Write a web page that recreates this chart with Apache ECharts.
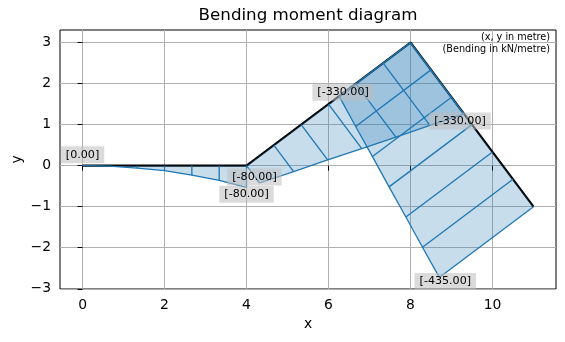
<!DOCTYPE html>
<html><head><meta charset="utf-8">
<script src="https://cdn.jsdelivr.net/npm/echarts@6/dist/echarts.min.js"></script>
<style>html,body{margin:0;padding:0;background:#fff}#c{width:565px;height:342px}</style>
</head><body><div id="c"></div>
<script>
// ---- data ----
const nodeX = [0, 4, 8, 11];
const nodeY = [0, 0, 3, -1];
const memberStart = [0, 1, 2];
const memberEnd = [1, 2, 3];
// bending moment (kN·m) at 7 evenly spaced stations along each member
const momentsM1 = [0, -2, -9, -18, -35, -54, -80];
const momentsM2 = [-80, -122, -163, -205, -247, -288, -330];
const momentsM3 = [-330, -348, -365, -383, -400, -418, -435];
const xTicks = [0, 2, 4, 6, 8, 10];
const yTicks = [-3, -2, -1, 0, 1, 2, 3];
const titleText = 'Bending moment diagram';
const noteLines = ['(x, y in metre)', '(Bending in kN/metre)'];

// ---- drawing settings ----
const drawScale = 0.0066; // metres of drawing per kN·m
const FONT = 'DejaVu Sans';
const BLUE = '#1f77b4';
// pixel nudges for the end labels [start, end] per member
const labelNudge = [[[0, -11], [0, 7]], [[-5, -6], [-4, 7]], [[4, -4], [6, 4]]];

const moments = [momentsM1, momentsM2, momentsM3];

function memberGeom(i) {
  const a = memberStart[i], b = memberEnd[i];
  const x0 = nodeX[a], y0 = nodeY[a], x1 = nodeX[b], y1 = nodeY[b];
  const L = Math.hypot(x1 - x0, y1 - y0);
  const ux = (x1 - x0) / L, uy = (y1 - y0) / L;
  const nx = uy, ny = -ux;
  const ms = moments[i];
  const n = ms.length - 1;
  const base = [], off = [];
  for (let k = 0; k <= n; k++) {
    const t = k / n;
    const bx = x0 + (x1 - x0) * t, by = y0 + (y1 - y0) * t;
    const d = -ms[k] * drawScale;
    base.push([bx, by]);
    off.push([bx + nx * d, by + ny * d]);
  }
  return { base, off, ms };
}
const geoms = memberStart.map((_, i) => memberGeom(i));
const memberIdx = memberStart.map((_, i) => i);

const labelItems = [];
geoms.forEach((g, i) => {
  const n = g.off.length - 1;
  labelItems.push({ p: g.off[0], v: g.ms[0], nudge: labelNudge[i][0] });
  labelItems.push({ p: g.off[n], v: g.ms[n], nudge: labelNudge[i][1] });
});

const chart = echarts.init(document.getElementById('c'), null, { renderer: 'canvas' });

const axisCommon = {
  type: 'value',
  axisLine: { show: false },
  axisTick: { show: true, length: 5, lineStyle: { color: '#000', width: 1 } },
  splitLine: { show: true, lineStyle: { color: '#b0b0b0', width: 1 } },
  nameTextStyle: { fontFamily: FONT, fontSize: 13.9, color: '#000' },
  nameMoveOverlap: false,
};

chart.setOption({
  animation: false,
  backgroundColor: '#fff',
  grid: { left: 60, right: 9, top: 30, bottom: 53, show: true, borderColor: '#000', borderWidth: 1,
    containLabel: false, outerBoundsMode: 'none' },
  xAxis: Object.assign({}, axisCommon, {
    min: -0.55, max: 11.55,
    name: 'x', nameLocation: 'middle', nameGap: 28,
    axisTick: Object.assign({}, axisCommon.axisTick, { customValues: xTicks }),
    axisLabel: { customValues: xTicks, fontFamily: FONT, fontSize: 13.9, color: '#000', margin: 9 },
  }),
  yAxis: Object.assign({}, axisCommon, {
    min: -3.005, max: 3.305,
    name: 'y', nameLocation: 'middle', nameGap: 36,
    axisTick: Object.assign({}, axisCommon.axisTick, { customValues: yTicks }),
    axisLabel: { customValues: yTicks, fontFamily: FONT, fontSize: 13.9, color: '#000', margin: 9,
      formatter: v => String(v).replace('-', '\u2212') },
  }),
  graphic: [
    { type: 'text', x: 308, y: 16, style: { text: titleText, font: '16.7px "DejaVu Sans"', fill: '#000', align: 'center', verticalAlign: 'middle' }, z: 100 },
    { type: 'text', x: 550, y: 37, style: { text: noteLines[0], font: '9.7px "DejaVu Sans"', fill: '#000', align: 'right', verticalAlign: 'middle' }, z: 100 },
    { type: 'text', x: 550, y: 49, style: { text: noteLines[1], font: '9.7px "DejaVu Sans"', fill: '#000', align: 'right', verticalAlign: 'middle' }, z: 100 },
  ],
  series: [
    {
      type: 'line', z: 2, symbol: 'none', silent: true,
      data: nodeX.map((x, i) => [x, nodeY[i]]),
      lineStyle: { color: '#000', width: 2.2 },
    },
    {
      type: 'custom', z: 3, silent: true,
      data: memberIdx,
      renderItem: (params, api) => {
        const g = geoms[params.dataIndex];
        const pts = [g.base[0]].concat(g.off, [g.base[g.base.length - 1]]).map(p => api.coord(p));
        return { type: 'polygon', shape: { points: pts }, style: { fill: 'rgba(31,119,180,0.25)', stroke: null } };
      },
    },
    {
      type: 'custom', z: 4, silent: true,
      data: memberIdx,
      renderItem: (params, api) => {
        const g = geoms[params.dataIndex];
        const children = [{ type: 'polyline', shape: { points: g.off.map(p => api.coord(p)) }, style: { stroke: BLUE, lineWidth: 1.3, fill: null } }];
        g.base.forEach((b, k) => {
          const p1 = api.coord(b), p2 = api.coord(g.off[k]);
          children.push({ type: 'line', shape: { x1: p1[0], y1: p1[1], x2: p2[0], y2: p2[1] }, style: { stroke: BLUE, lineWidth: 1.3 } });
        });
        return { type: 'group', children };
      },
    },
    {
      type: 'custom', z: 5, silent: true, clip: false,
      data: labelItems.map((_, i) => i),
      renderItem: (params, api) => {
        const it = labelItems[params.dataIndex];
        const c = api.coord(it.p);
        return {
          type: 'text', x: c[0] + it.nudge[0], y: c[1] + it.nudge[1],
          style: { text: '[' + it.v.toFixed(2) + ']', font: '11.1px "DejaVu Sans"', fill: '#000', align: 'center', verticalAlign: 'middle',
            backgroundColor: 'rgba(190,190,190,0.55)', padding: [3, 5, 3, 5] },
        };
      },
    },
  ],
});
</script></body></html>
